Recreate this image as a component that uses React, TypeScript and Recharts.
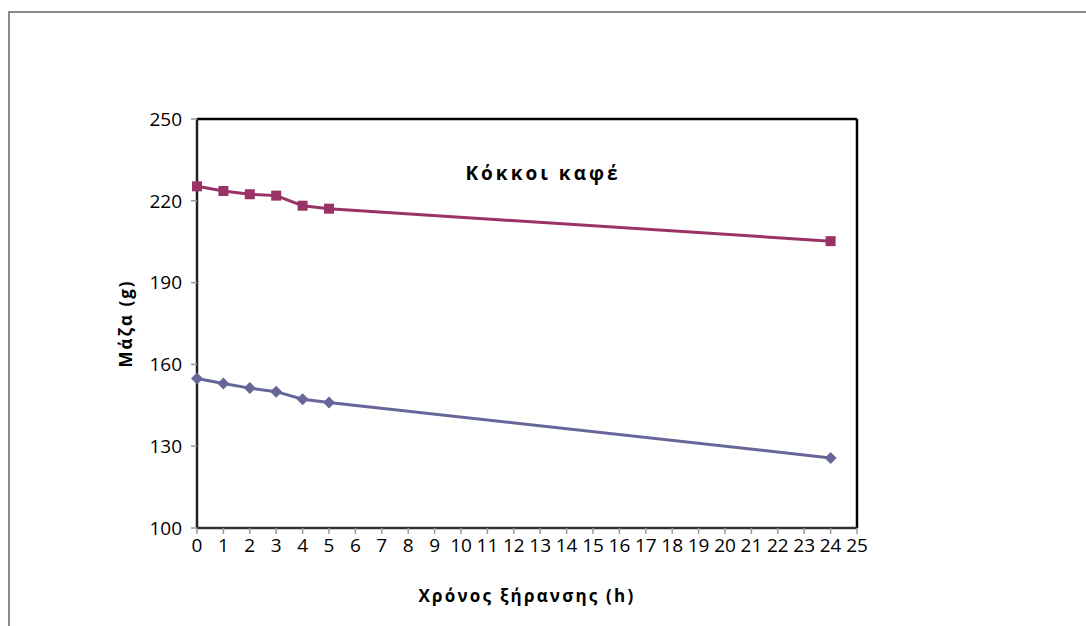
import React from "react";
import { LineChart, Line, XAxis, YAxis, Customized, ReferenceLine } from "recharts";

const hours = [0, 1, 2, 3, 4, 5, 24];
const massCoffeeA = [225.3, 223.6, 222.4, 221.9, 218.2, 217.1, 205.2];
const massCoffeeB = [154.8, 153.0, 151.3, 150.0, 147.2, 146.0, 125.7];
const xTicks = Array.from({ length: 26 }, (_, i) => i);
const yTicks = [100, 130, 160, 190, 220, 250];

const data = hours.map((h, i) => ({ h, a: massCoffeeA[i], b: massCoffeeB[i] }));

const FONT = "'Open Sans', 'DejaVu Sans', sans-serif";
const COLOR_A = "#993366";
const COLOR_B = "#666699";

const SquareDot = (props: any) => {
  const { cx, cy, index } = props;
  if (cx == null || cy == null) return null;
  return <rect key={`sq-${index}`} x={cx - 5} y={cy - 5} width={10} height={10} fill={COLOR_A} />;
};

const DiamondDot = (props: any) => {
  const { cx, cy, index } = props;
  if (cx == null || cy == null) return null;
  const r = 6;
  return (
    <polygon
      key={`dm-${index}`}
      points={`${cx},${cy - r} ${cx + r},${cy} ${cx},${cy + r} ${cx - r},${cy}`}
      fill={COLOR_B}
    />
  );
};

const Title = () => (
  <text
    x={543}
    y={180}
    textAnchor="middle"
    fontFamily={FONT}
    fontWeight={700}
    fontSize={19}
    letterSpacing={3}
    fill="#000"
  >
    Κόκκοι καφέ
  </text>
);

export default function App() {
  return (
    <div>
      <div
        style={{
          position: "absolute",
          left: 8,
          top: 11,
          width: 1078,
          height: 615,
          borderTop: "2px solid #8a8a8a",
          borderLeft: "2px solid #8a8a8a",
          boxSizing: "border-box",
        }}
      />
      <div style={{ position: "absolute", left: 0, top: 0 }}>
        <LineChart
          width={1086}
          height={626}
          data={data}
          margin={{ top: 119, right: 229, left: 110, bottom: 18 }}
        >
          <XAxis
            dataKey="h"
            type="number"
            domain={[0, 25]}
            ticks={xTicks}
            interval={0}
            height={80}
            tickSize={6}
            tickMargin={5}
            axisLine={{ stroke: "#333", strokeWidth: 2.5 }}
            tickLine={{ stroke: "#999", strokeWidth: 1.5 }}
            tick={{ fontFamily: FONT, fontSize: 19, fill: "#000" }}
            label={{
              value: "Χρόνος ξήρανσης (h)",
              position: "insideBottom",
              offset: 6,
              style: {
                fontFamily: FONT,
                fontWeight: 700,
                fontSize: 17,
                letterSpacing: 2.2,
                fill: "#000",
              },
            }}
          />
          <YAxis
            type="number"
            domain={[100, 250]}
            ticks={yTicks}
            interval={0}
            width={87}
            tickSize={6}
            tickMargin={9}
            axisLine={{ stroke: "#222", strokeWidth: 2.5 }}
            tickLine={{ stroke: "#999", strokeWidth: 1.5 }}
            tick={{ fontFamily: FONT, fontSize: 19, fill: "#000" }}
            label={{
              value: "Μάζα (g)",
              angle: -90,
              position: "insideLeft",
              offset: 16,
              style: {
                textAnchor: "middle",
                fontFamily: FONT,
                fontWeight: 700,
                fontSize: 17,
                letterSpacing: 2,
                fill: "#000",
              },
            }}
          />
          <ReferenceLine y={250} stroke="#000" strokeWidth={2.5} ifOverflow="visible" />
          <ReferenceLine x={25} stroke="#000" strokeWidth={2.5} ifOverflow="visible" />
          <Line
            type="linear"
            dataKey="a"
            stroke={COLOR_A}
            strokeWidth={3}
            dot={SquareDot}
            activeDot={false}
            isAnimationActive={false}
          />
          <Line
            type="linear"
            dataKey="b"
            stroke={COLOR_B}
            strokeWidth={3}
            dot={DiamondDot}
            activeDot={false}
            isAnimationActive={false}
          />
          <Customized component={Title} />
        </LineChart>
      </div>
    </div>
  );
}
